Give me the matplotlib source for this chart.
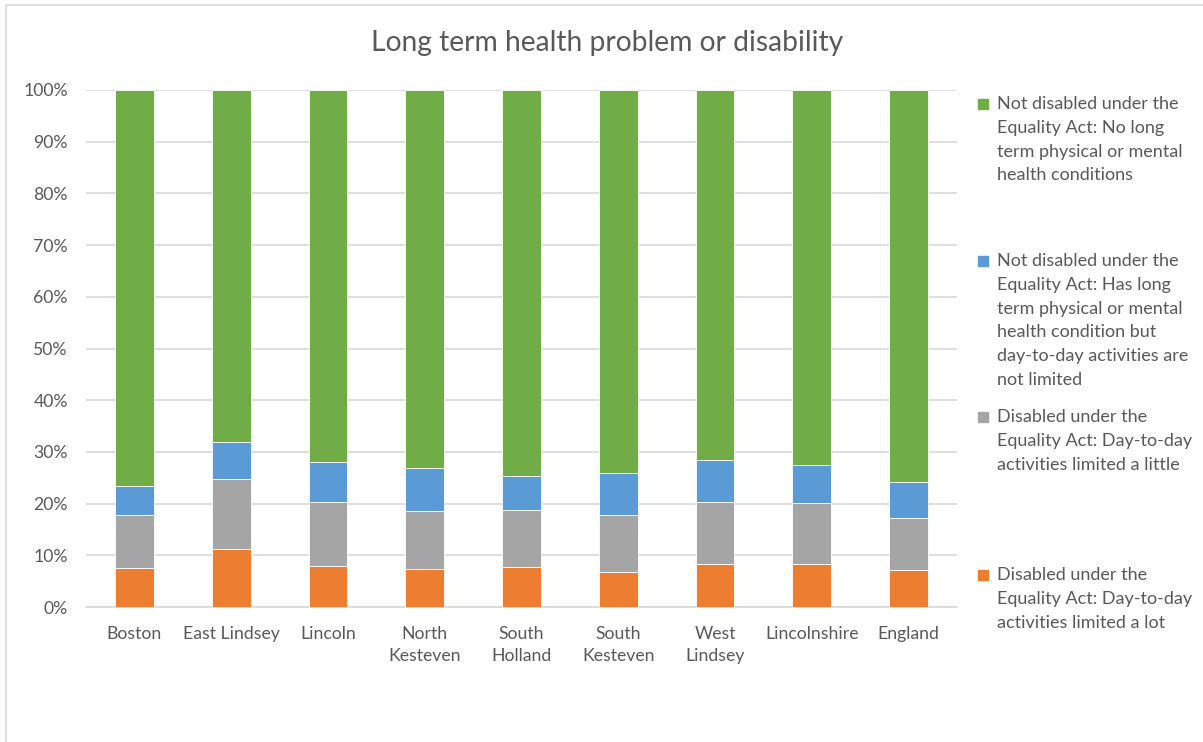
import numpy as np
import matplotlib.pyplot as plt
from matplotlib.patches import Rectangle

plt.rcParams['font.family'] = ['Lato', 'DejaVu Sans']

# ─── DATA (percent of residents) ─────────────────────────────────────────────

AREAS = ["Boston", "East Lindsey", "Lincoln", "North\nKesteven", "South\nHolland",
         "South\nKesteven", "West\nLindsey", "Lincolnshire", "England"]

LIMITED_LOT    = [7.6, 11.2, 8.0, 7.3, 7.8, 6.8, 8.3, 8.3, 7.2]
LIMITED_LITTLE = [10.1, 13.6, 12.4, 11.3, 10.9, 10.9, 12.1, 11.8, 10.1]
NOT_LIMITED    = [5.8, 7.2, 7.7, 8.2, 6.7, 8.3, 8.1, 7.4, 6.8]
NO_CONDITION   = [76.5, 68.0, 71.9, 73.2, 74.6, 74.0, 71.5, 72.5, 75.9]

SERIES_LABELS = [
    "Disabled under the\nEquality Act: Day-to-day\nactivities limited a lot",
    "Disabled under the\nEquality Act: Day-to-day\nactivities limited a little",
    "Not disabled under the\nEquality Act: Has long\nterm physical or mental\n"
    "health condition but\nday-to-day activities are\nnot limited",
    "Not disabled under the\nEquality Act: No long\nterm physical or mental\nhealth conditions",
]
COLOURS = ["#ED7D31", "#A5A5A5", "#5B9BD5", "#70AD47"]

TEXT_GREY = "#595959"
GRID_GREY = "#D9D9D9"

# ─── FIGURE ──────────────────────────────────────────────────────────────────

fig = plt.figure(figsize=(12.03, 7.42), dpi=100)
W, H = 1203, 742
ax = fig.add_axes([86 / W, 1 - 607 / H, (957 - 86) / W, (607 - 90) / H])

x = np.arange(len(AREAS))
bottom = np.zeros(len(AREAS))
for vals, colour in zip([LIMITED_LOT, LIMITED_LITTLE, NOT_LIMITED, NO_CONDITION], COLOURS):
    vals = np.array(vals)
    ax.bar(x, vals, 0.40, bottom=bottom, color=colour,
           edgecolor="white", linewidth=0.6, zorder=3)
    bottom += vals

ax.set_xlim(-0.5, len(AREAS) - 0.5)
ax.set_ylim(0, 100)
ax.set_yticks(np.arange(0, 101, 10))
ax.set_yticklabels([f"{v}%" for v in range(0, 101, 10)])
ax.set_xticks(x)
ax.set_xticklabels(AREAS, linespacing=1.45)
ax.tick_params(axis="both", length=0, labelsize=12.7, colors=TEXT_GREY)
ax.tick_params(axis="y", pad=13)
ax.tick_params(axis="x", pad=14)
for label in ax.get_xticklabels() + ax.get_yticklabels():
    label.set_color(TEXT_GREY)

ax.yaxis.grid(True, color=GRID_GREY, linewidth=1.2, zorder=0)
for side in ["top", "right", "left"]:
    ax.spines[side].set_visible(False)
ax.spines["bottom"].set_color(GRID_GREY)
ax.spines["bottom"].set_linewidth(1.2)

fig.text(607 / W, 1 - 43 / H, "Long term health problem or disability",
         ha="center", va="center", fontsize=20.3, color=TEXT_GREY)

# Legend drawn by hand so the entries are spaced like the chart's own legend
legend_tops = [575, 417, 261, 104]
for label, colour, top in zip(SERIES_LABELS, COLOURS, legend_tops):
    fig.add_artist(Rectangle(((983 - 5) / W, 1 - (top + 5) / H), 10 / W, 10 / H,
                             transform=fig.transFigure, color=colour))
    fig.text(997 / W, 1 - (top - 8) / H, label, ha="left", va="top",
             fontsize=13, color=TEXT_GREY, linespacing=1.6)

# chart area border
fig.add_artist(Rectangle((6 / W, -0.05), 1.1, 1 - 5 / H + 0.05,
                         transform=fig.transFigure, fill=False,
                         edgecolor="#D9D9D9", linewidth=1.2))

fig.savefig("out.png", dpi=100, facecolor="white")
